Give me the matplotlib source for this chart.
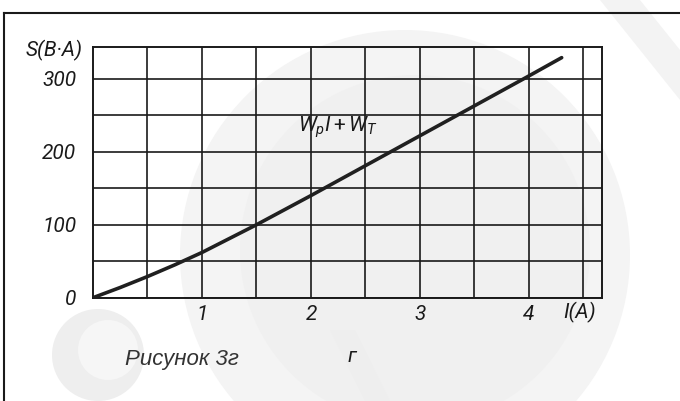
import numpy as np
import matplotlib
matplotlib.use('Agg')
import matplotlib.pyplot as plt
from matplotlib.patches import Circle, Polygon

# S(I) read along the grid: current in A, apparent power in B·A
current = [0, 0.25, 0.5, 0.75, 1.0, 1.25, 1.5, 1.75, 2.0, 2.5, 3.0, 3.5, 4.0, 4.3]
power = [0, 14, 29, 45, 62, 81, 100, 120, 140, 181, 222, 263, 304, 329]

x_ticks = [1, 2, 3, 4]
y_ticks = [0, 100, 200, 300]

W, H = 680, 401
ink = '#1a1a1a'
thin = ['Roboto', 'DejaVu Sans']

plt.rcParams['mathtext.fontset'] = 'custom'
plt.rcParams['mathtext.it'] = 'Roboto:italic'
plt.rcParams['mathtext.rm'] = 'Roboto'

fig = plt.figure(figsize=(W / 100, H / 100), dpi=100)

# faint watermark behind everything, in pixel coordinates
bg = fig.add_axes([0, 0, 1, 1], zorder=0)
bg.set_xlim(0, W)
bg.set_ylim(H, 0)
bg.axis('off')
bg.add_patch(Circle((405, 255), 225, color='#f4f4f4', lw=0))
bg.add_patch(Circle((415, 250), 175, color='#f0f0f0', lw=0))
bg.add_patch(Circle((98, 355), 46, color='#eeeeee', lw=0))
bg.add_patch(Circle((108, 350), 30, color='#f6f6f6', lw=0))
bg.add_patch(Polygon([[600, 0], [640, 0], [680, 50], [680, 100]], color='#f3f3f3', lw=0))
bg.add_patch(Polygon([[330, 330], [355, 330], [390, 401], [365, 401]], color='#eeeeee', lw=0))

# outer frame: top and left edges only
bg.plot([4, W], [13, 13], color=ink, lw=1.5)
bg.plot([4, 4], [13, H], color=ink, lw=1.5)

ax = fig.add_axes([93 / W, 1 - 297.7 / H, (602 - 93) / W, (297.7 - 46.7) / H], zorder=1)
ax.patch.set_alpha(0)
ax.set_xlim(0, 4.67)
ax.set_ylim(0, 344)

ax.plot(current, power, color='#202020', lw=2.6, solid_capstyle='round',
        solid_joinstyle='round', zorder=3)

ax.set_xticks(x_ticks)
ax.set_xticklabels([str(v) for v in x_ticks])
ax.set_xticks(np.arange(0.5, 4.6, 0.5), minor=True)
ax.set_yticks(y_ticks)
ax.set_yticklabels([str(v) for v in y_ticks])
ax.set_yticks(np.arange(50, 340, 50), minor=True)
ax.grid(which='both', color=ink, lw=1.2)
ax.tick_params(which='both', length=0)
ax.tick_params(axis='x', pad=5)
ax.tick_params(axis='y', pad=12)
for lab in ax.get_xticklabels() + ax.get_yticklabels():
    lab.set_fontstyle('italic')
    lab.set_fontsize(15)
    lab.set_family(thin)
    lab.set_color(ink)
for s in ax.spines.values():
    s.set_linewidth(1.4)
    s.set_color(ink)

ax.text(-0.02, 0.985, 'S(B·A)', transform=ax.transAxes, ha='right', va='center',
        fontsize=15, style='italic', family=thin, color=ink)
ax.text(0.955, -0.06, 'I(A)', transform=ax.transAxes, ha='center', va='center',
        fontsize=15, style='italic', family=thin, color=ink)
ax.text(2.25, 234, r'$W_p I + W_T$', ha='center', va='center', fontsize=15,
        color=ink)

fig.text(182 / W, 1 - 360 / H, 'Рисунок 3г', ha='center', va='center', fontsize=16,
         style='italic', color='#333333', family=['Liberation Sans', 'DejaVu Sans'])
fig.text(352 / W, 1 - 357 / H, 'г', ha='center', va='center', fontsize=15,
         style='italic', family=thin, color=ink)

fig.savefig('out.png', dpi=100)
